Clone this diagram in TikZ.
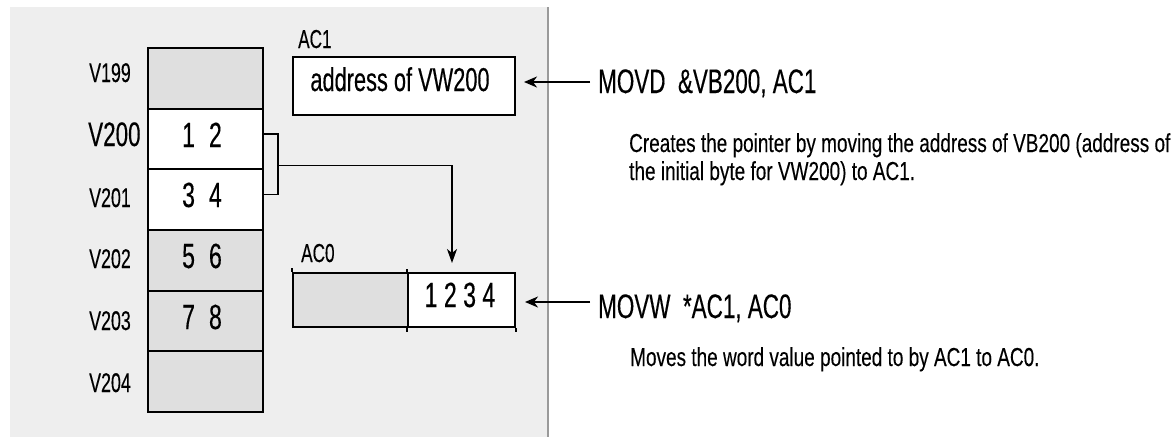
\documentclass[tikz,border=0pt]{standalone}
\usepackage{fontspec}
\setmainfont{Liberation Sans}[FakeStretch=0.66,FakeBold=0.3]
\newfontfamily\descfont{Liberation Sans}[FakeStretch=0.73,FakeBold=0.2]
\usetikzlibrary{arrows.meta,calc}
\definecolor{panel}{HTML}{EEEEEE}
\definecolor{cellgray}{HTML}{DFDFDF}
\definecolor{edgegray}{HTML}{9A9A9A}
\begin{document}
\begin{tikzpicture}[x=1pt,y=-1pt,
  cell/.style={draw=black,line width=2pt,minimum width=115pt,minimum height=60.67pt,inner sep=0pt,anchor=north west},
  regbox/.style={draw=black,line width=2pt,minimum height=54pt,inner sep=0pt,anchor=north west},
  vlab/.style={anchor=base west,inner sep=0pt,font=\fontsize{27}{27}\selectfont},
  val/.style={anchor=base,inner sep=0pt,font=\fontsize{35}{35}\selectfont},
  reglab/.style={anchor=base west,inner sep=0pt,font=\fontsize{26}{26}\selectfont},
  instr/.style={anchor=base west,inner sep=0pt,font=\fontsize{34}{34}\selectfont},
  desc/.style={anchor=base west,inner sep=0pt,font=\descfont\fontsize{26}{30}\selectfont},
  conn/.style={line width=1.5pt},
  arr/.style={line width=1.5pt,-{Stealth[length=13pt,width=11pt,inset=4pt]}}
]
\useasboundingbox (0,0) rectangle (1173,437);
\fill[white] (0,0) rectangle (1173,437);
\fill[panel] (10,7) rectangle (548,437);
\draw[edgegray,line width=1.6pt] (548,7) -- (548,437);

% memory cells
\node[cell,fill=cellgray] (v199) at (147,47) {};
\node[cell,fill=white] (v200) at (147,107.67) {};
\node[cell,fill=white] (v201) at (147,168.33) {};
\node[cell,fill=cellgray] (v202) at (147,229) {};
\node[cell,fill=cellgray] (v203) at (147,289.67) {};
\node[cell,fill=cellgray] (v204) at (147,350.33) {};

% address labels
\node[vlab] (l199) at (89,82) {V199};
\node[vlab,font=\fontsize{34}{34}\selectfont] (l200) at (88,146) {V200};
\node[vlab] (l201) at (89,207) {V201};
\node[vlab] (l202) at (89,268) {V202};
\node[vlab] (l203) at (89,330) {V203};
\node[vlab] (l204) at (89,392) {V204};

% values
\node[val] (t200) at (202,147) {1\hspace{14pt}2};
\node[val] (t201) at (202,207) {3\hspace{14pt}4};
\node[val] (t202) at (202,268) {5\hspace{14pt}6};
\node[val] (t203) at (202,329) {7\hspace{14pt}8};

% AC1
\node[reglab] (lac1) at (298,48) {AC1};
\node[regbox,fill=white,minimum width=222pt,minimum height=58pt] (ac1) at (292,56) {};
\node[anchor=base,inner sep=0pt,font=\fontsize{33}{33}\selectfont] (tac1) at (400,91) {address of VW200};

% AC0
\node[reglab] (lac0) at (301,262) {AC0};
\node[regbox,fill=cellgray,minimum width=115pt] (ac0l) at (292,272) {};
\node[regbox,fill=white,minimum width=107pt] (ac0r) at (407,272) {};
\node[val] (tac0) at (460,307) {1 2 3 4};
\draw[line width=1.5pt] (ac0l.north west) -- ++(0,-4);
\draw[line width=1.5pt] (ac0r.north west) -- ++(0,-3);
\draw[line width=1.5pt] (ac0r.south west) -- ++(0,4);
\draw[line width=1.5pt] (ac0r.south east) -- ++(0,4);

% bracket and pointer arrow
\coordinate (b1) at ($(v200.east)+(0,-5)$);
\coordinate (b2) at ($(v201.east)+(0,-5)$);
\draw[conn] (b1) -- ++(14,0) |- (b2);
\coordinate (bm) at ($(b1)!0.5!(b2)+(14,1)$);
\draw[arr,-{Stealth[length=14pt,width=10pt,inset=4pt]}] (bm) -| ([xshift=-9.5pt,yshift=9pt]ac0r.north);

% instructions
\node[instr] (movd) at (598,93) {MOVD\ \ \&VB200, AC1};
\node[desc] (d1a) at (629,152) {Creates the pointer by moving the address of VB200 (address of};
\node[desc] (d1b) at (629,180) {the initial byte for VW200) to AC1.};
\node[instr] (movw) at (598,318) {MOVW\ \ *AC1, AC0};
\node[desc] (d2) at (630,366) {Moves the word value pointed to by AC1 to AC0.};

\coordinate (s1) at (590,82);
\coordinate (s2) at (590,302);
\draw[arr,shorten >=8pt] (s1) -- (s1 -| ac1.east);
\draw[arr,shorten >=9pt] (s2) -- (s2 -| ac0r.east);
\end{tikzpicture}
\end{document}
